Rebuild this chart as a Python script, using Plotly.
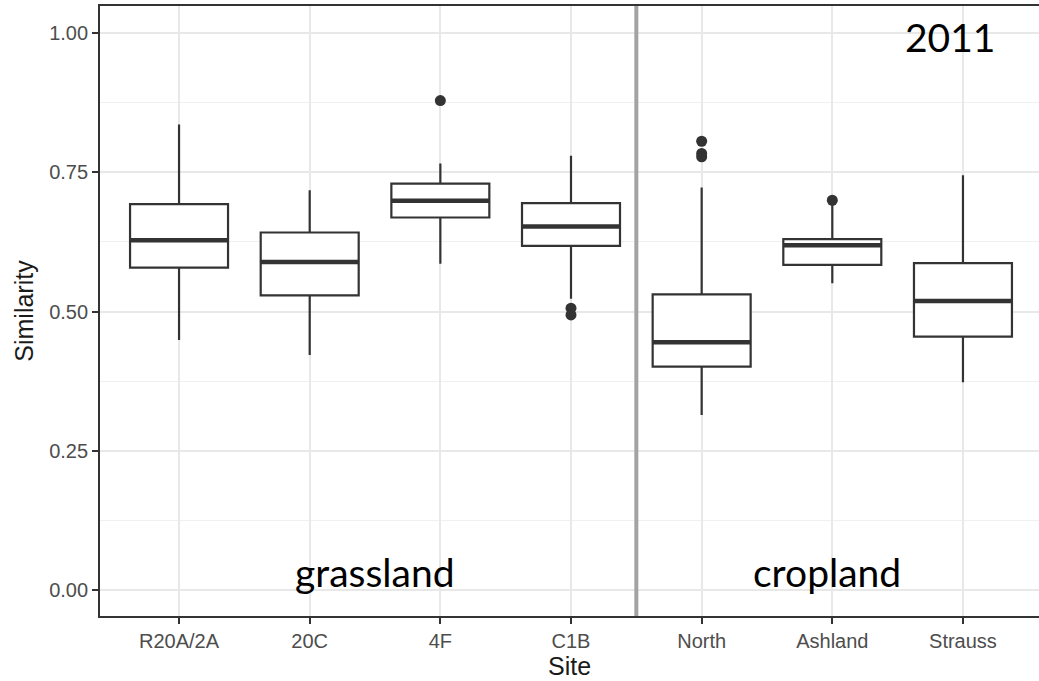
import plotly.graph_objects as go

# ---- data ----
sites = ["R20A/2A", "20C", "4F", "C1B", "North", "Ashland", "Strauss"]
n_grassland = 4
lower_whisker = [0.449, 0.422, 0.586, 0.523, 0.314, 0.551, 0.373]
q1 = [0.579, 0.529, 0.669, 0.618, 0.401, 0.584, 0.455]
median = [0.628, 0.589, 0.699, 0.653, 0.445, 0.619, 0.519]
q3 = [0.693, 0.642, 0.730, 0.695, 0.531, 0.630, 0.587]
upper_whisker = [0.836, 0.718, 0.766, 0.780, 0.723, 0.695, 0.745]
outlier_site = ["4F", "C1B", "C1B", "North", "North", "North", "Ashland"]
outlier_value = [0.879, 0.506, 0.494, 0.806, 0.784, 0.778, 0.700]
y_ticks = [0.0, 0.25, 0.5, 0.75, 1.0]

pos = list(range(1, len(sites) + 1))
site_pos = {s: p for s, p in zip(sites, pos)}
BOXW = 0.75
DARK = "#333333"

fig = go.Figure()
fig.add_trace(go.Box(
    x=pos, q1=q1, median=median, q3=q3,
    lowerfence=lower_whisker, upperfence=upper_whisker,
    width=BOXW, whiskerwidth=0, boxpoints=False,
    fillcolor="white", line=dict(color=DARK, width=2.2),
    hoverinfo="skip", showlegend=False,
))

# thicker median bars (ggplot style)
mx, my = [], []
for p, m in zip(pos, median):
    mx += [p - BOXW / 2, p + BOXW / 2, None]
    my += [m, m, None]
fig.add_trace(go.Scatter(x=mx, y=my, mode="lines",
                         line=dict(color=DARK, width=4.5),
                         hoverinfo="skip", showlegend=False))

fig.add_trace(go.Scatter(
    x=[site_pos[s] for s in outlier_site], y=outlier_value, mode="markers",
    marker=dict(color=DARK, size=11), hoverinfo="skip", showlegend=False))

# divider between land uses
fig.add_shape(type="line", xref="x", yref="paper",
              x0=n_grassland + 0.5, x1=n_grassland + 0.5, y0=0, y1=1,
              line=dict(color="#a3a3a3", width=4))

ann_font = dict(family="Lato, Carlito, sans-serif", size=39, color="black")
fig.add_annotation(x=2.5, y=0.032, xref="x", yref="y", text="grassland",
                   showarrow=False, font=ann_font, yanchor="middle")
fig.add_annotation(x=5.96, y=0.032, xref="x", yref="y", text="cropland",
                   showarrow=False, font=ann_font, yanchor="middle")
fig.add_annotation(x=6.9, y=0.993, xref="x", yref="y", text="2011",
                   showarrow=False, font=ann_font, yanchor="middle")

tick_font = dict(family="Liberation Sans, Arial, sans-serif", size=20, color="#4d4d4d")
title_font = dict(family="Liberation Sans, Arial, sans-serif", size=25, color="#1a1a1a")

fig.update_layout(
    width=1039, height=681,
    margin=dict(l=100, r=0, t=6, b=65),
    paper_bgcolor="white", plot_bgcolor="white",
    xaxis=dict(
        range=[0.395, 7.582], tickvals=pos, ticktext=sites,
        showgrid=True, gridcolor="#e8e8e8", gridwidth=1.6,
        zeroline=False, showline=True, linecolor=DARK, linewidth=1.8,
        mirror=True, ticks="outside", ticklen=6, tickwidth=1.8, tickcolor=DARK,
        tickfont=tick_font,
        title=dict(text="Site", font=title_font, standoff=4),
    ),
    yaxis=dict(
        range=[-0.047, 1.049], tickvals=y_ticks, tickformat=".2f",
        showgrid=True, gridcolor="#e8e8e8", gridwidth=1.6,
        minor=dict(dtick=0.125, tick0=0, showgrid=True, gridcolor="#f0f0f0", gridwidth=1.0),
        zeroline=False, showline=True, linecolor=DARK, linewidth=1.8,
        mirror=False, ticks="outside", ticklen=6, tickwidth=1.8, tickcolor=DARK,
        tickfont=tick_font,
        title=dict(text="Similarity", font=title_font, standoff=8),
    ),
)

fig.write_html("out.html", config={"displayModeBar": False},
               post_script="document.body.style.margin='0';document.body.style.overflow='hidden';")
